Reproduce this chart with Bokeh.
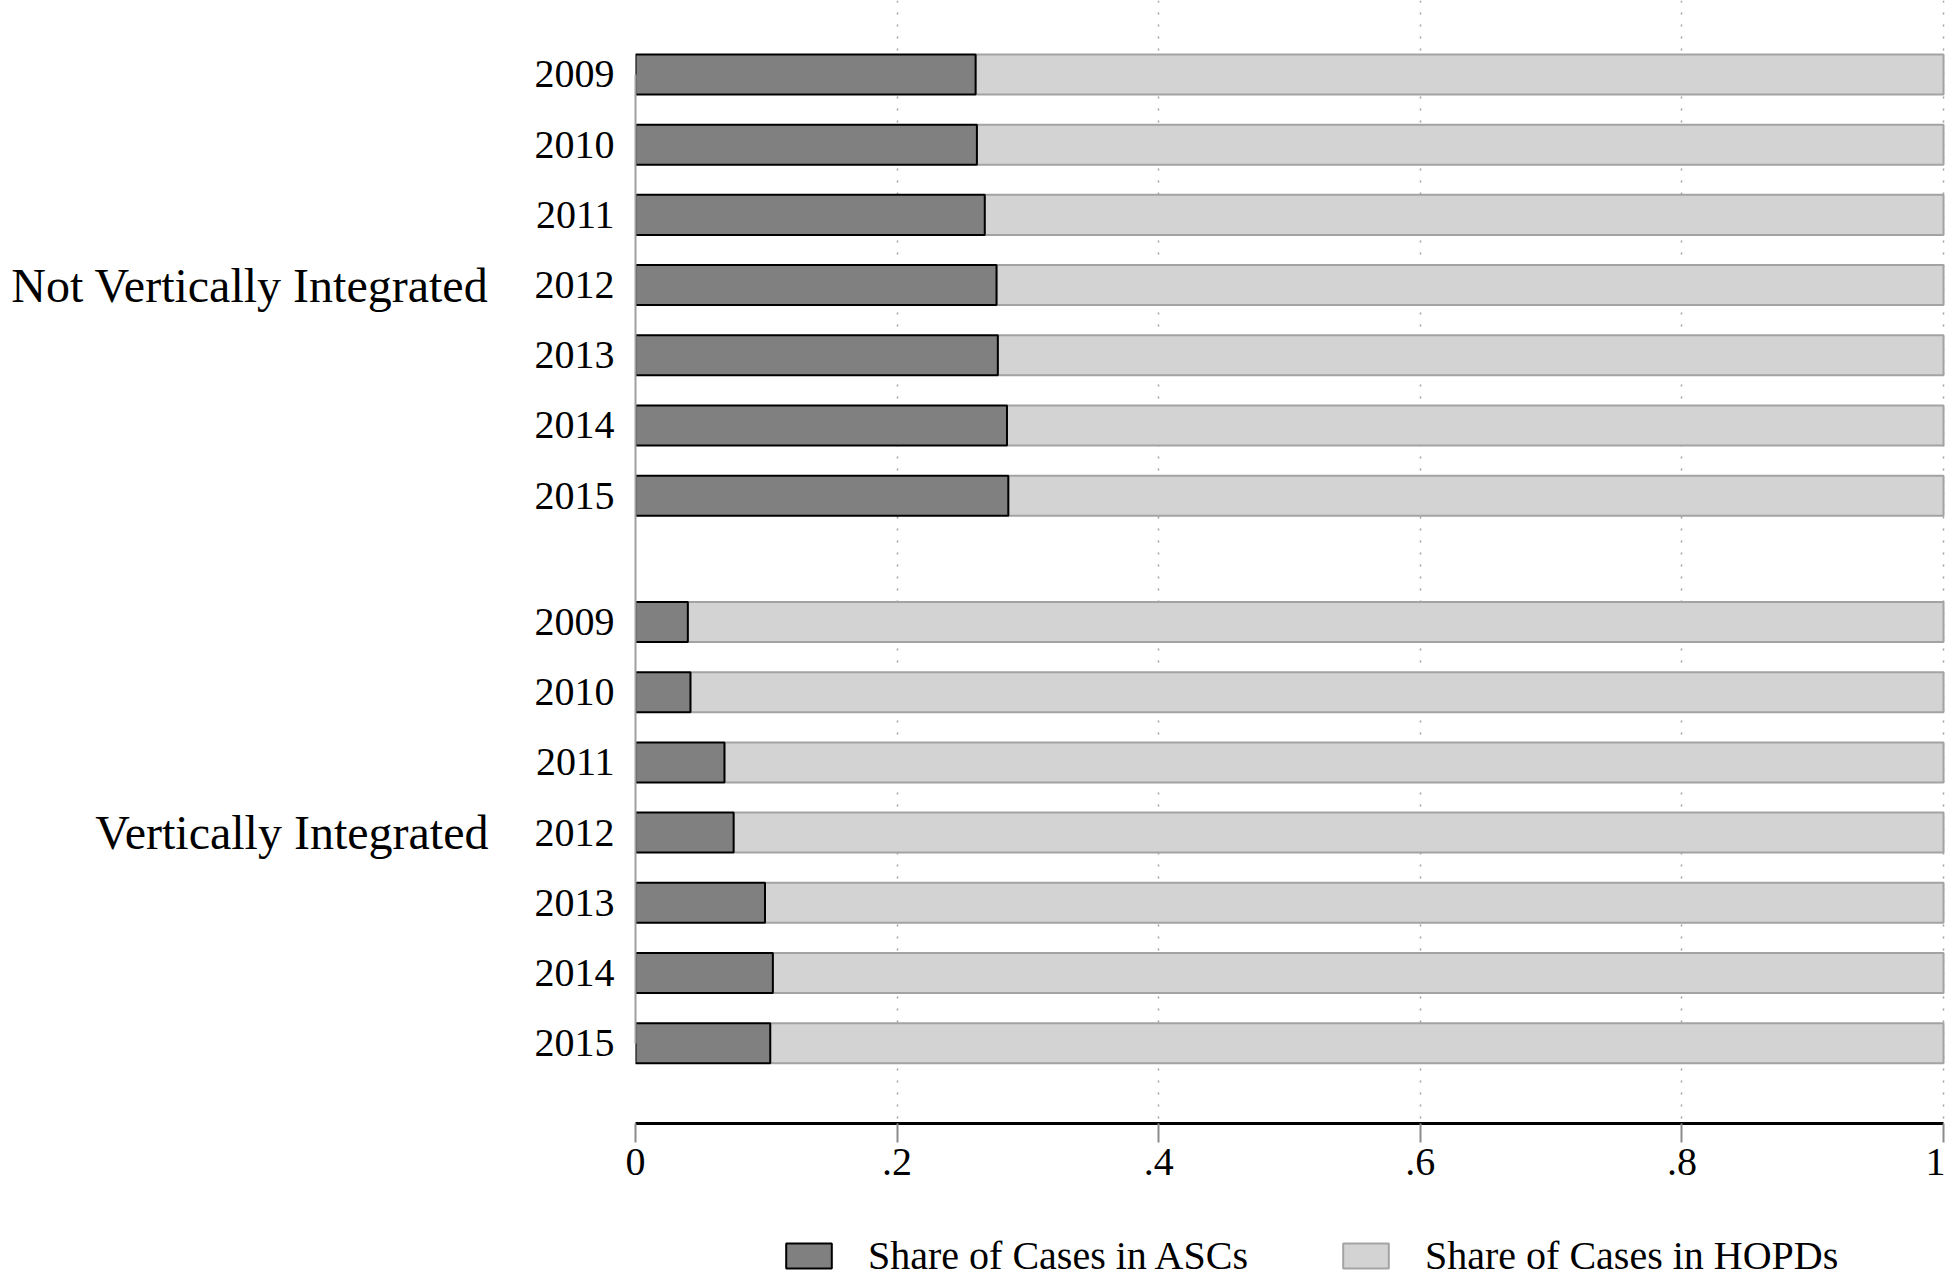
from bokeh.plotting import figure
from bokeh.layouts import column
from bokeh.models import (Range1d, FixedTicker, Legend, LegendItem, ColumnDataSource, LinearAxis)
from bokeh.embed import file_html
from bokeh.resources import INLINE

# ---- data ----
years = ["2009", "2010", "2011", "2012", "2013", "2014", "2015"]
groups = ["Not Vertically Integrated", "Vertically Integrated"]
asc_not_vi = [0.260, 0.261, 0.267, 0.276, 0.277, 0.284, 0.285]
asc_vi = [0.040, 0.042, 0.068, 0.075, 0.099, 0.105, 0.103]
series_names = ["Share of Cases in ASCs", "Share of Cases in HOPDs"]
x_ticks = [0, 0.2, 0.4, 0.6, 0.8, 1.0]
x_tick_labels = ["0", ".2", ".4", ".6", ".8", "1"]

FONT = "Liberation Serif"
ASC_STYLE = dict(fill_color="#808080", line_color="black", line_width=2)
HOPD_STYLE = dict(fill_color="#d3d3d3", line_color="#a3a3a3", line_width=2)

# positions (layout only)
step = 5
group_start = [0, 39]
pos, asc, ylab = [], [], {}
group_centers = []
for g, vals in zip(group_start, [asc_not_vi, asc_vi]):
    ps = [g + step * i for i in range(len(years))]
    pos += ps
    asc += vals
    for pp, yr in zip(ps, years):
        ylab[pp] = yr
    group_centers.append(sum(ps) // len(ps))

src = ColumnDataSource(dict(y=pos, asc=asc, one=[1.0] * len(pos),
                            zero=[0.0] * len(pos)))

W = 1945
H_MAIN = 1213
H_LEG = 66
FRAME_LEFT = 635
p = figure(width=W, height=H_MAIN, output_backend="svg", toolbar_location=None,
           x_range=Range1d(0, 1.0015), y_range=Range1d(74.72, -5.27),
           min_border_left=FRAME_LEFT, min_border_right=0, min_border_top=0,
           min_border_bottom=H_MAIN - 1123)
p.outline_line_color = None
p.background_fill_color = "white"

bh = 2.85
r_hopd = p.hbar(y="y", left="asc", right="one", height=bh, source=src, **HOPD_STYLE)
r_asc = p.hbar(y="y", left="zero", right="asc", height=bh, source=src, **ASC_STYLE)

# x axis
xa = p.xaxis[0]
xa.ticker = FixedTicker(ticks=x_ticks)
xa.major_label_overrides = {t: l for t, l in zip(x_ticks, x_tick_labels)}
xa.axis_line_color = "black"
xa.axis_line_width = 3
xa.bounds = (0, 1)
xa.major_tick_in = 0
xa.major_tick_out = 19
xa.major_tick_line_color = "#8c8c8c"
xa.major_tick_line_width = 2
xa.minor_tick_line_color = None
xa.major_label_text_font = FONT
xa.major_label_text_font_size = "40px"
xa.major_label_text_color = "black"
xa.major_label_standoff = 6

# y axis (years)
ya = p.yaxis[0]
ya.ticker = FixedTicker(ticks=pos)
ya.major_label_overrides = ylab
ya.axis_line_color = "#a0a0a0"
ya.axis_line_width = 2
ya.bounds = (0, 69)
ya.major_tick_in = 0
ya.major_tick_out = 0
ya.minor_tick_line_color = None
ya.major_label_text_font = FONT
ya.major_label_text_font_size = "40px"
ya.major_label_text_color = "black"
ya.major_label_standoff = 21

# group label axis
ga = LinearAxis(ticker=FixedTicker(ticks=group_centers),
                major_label_overrides={c: g for c, g in zip(group_centers, groups)},
                axis_line_color=None, major_tick_line_color=None,
                minor_tick_line_color=None, major_tick_in=0, major_tick_out=0,
                major_label_text_font=FONT, major_label_text_font_size="48px",
                major_label_text_color="black", major_label_standoff=43)
p.add_layout(ga, "left")

# grid
p.ygrid.grid_line_color = None
p.xgrid.ticker = FixedTicker(ticks=x_ticks)
p.xgrid.grid_line_color = "#a0a0a0"
p.xgrid.grid_line_dash = "2 10"
p.xgrid.grid_line_width = 1.5

# legend figure (hidden renderers carry the swatch styles)
pl = figure(width=W, height=H_LEG, output_backend="svg", toolbar_location=None,
            min_border_left=0, min_border_right=0, min_border_top=0,
            min_border_bottom=0, x_range=Range1d(0, 1), y_range=Range1d(0, 1))
pl.axis.visible = False
pl.grid.grid_line_color = None
pl.outline_line_color = None
la = pl.hbar(y="y", left="zero", right="asc", height=1, source=src, visible=False, **ASC_STYLE)
lh = pl.hbar(y="y", left="asc", right="one", height=1, source=src, visible=False, **HOPD_STYLE)
legend = Legend(items=[LegendItem(label=series_names[0], renderers=[la]),
                       LegendItem(label=series_names[1], renderers=[lh])],
                orientation="horizontal", location=(780 - FRAME_LEFT, 0),
                glyph_width=57, glyph_height=31, label_standoff=31, spacing=89,
                padding=0, margin=0, border_line_color=None,
                background_fill_alpha=0, inactive_fill_alpha=0,
                label_text_font=FONT,
                label_text_font_size="40px", label_text_color="black")
pl.add_layout(legend, "center")

layout = column(p, pl, spacing=0)
open("out.html", "w").write(file_html(layout, INLINE))
